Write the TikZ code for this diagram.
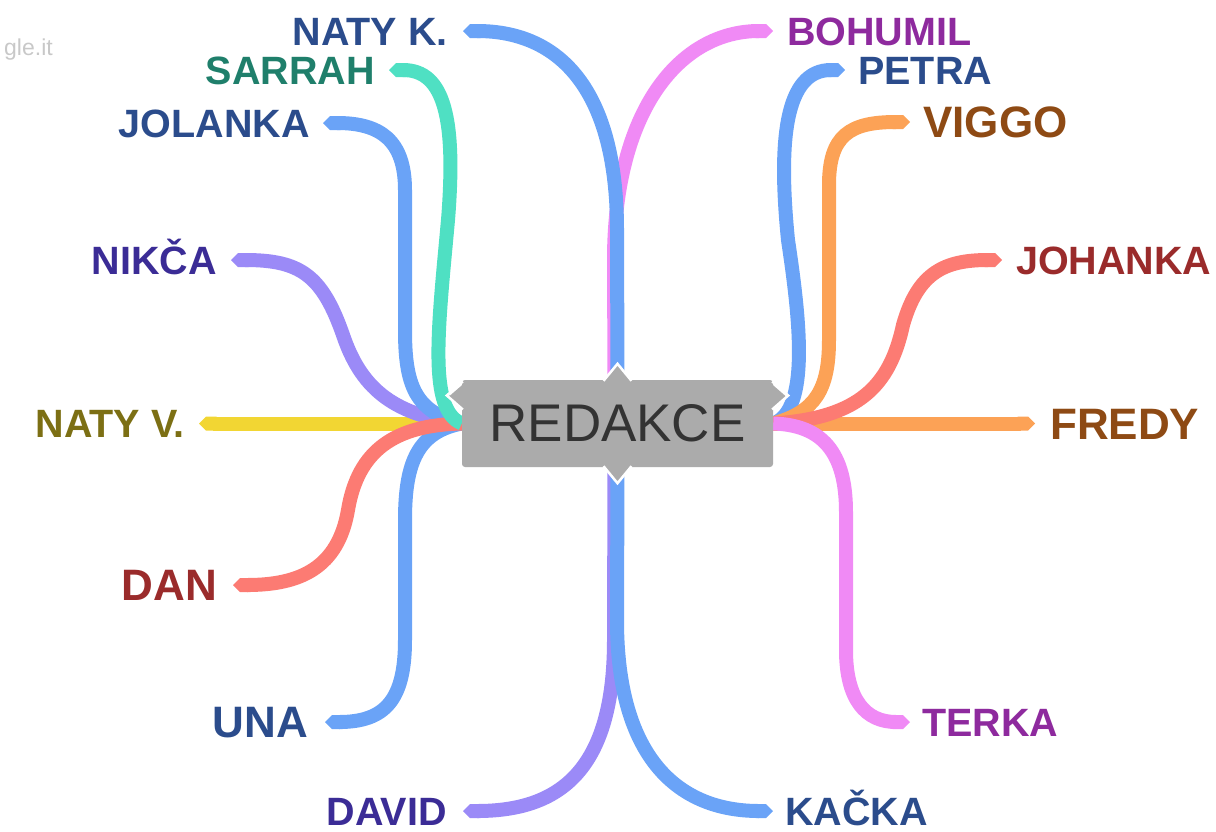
\documentclass[tikz,border=0pt]{standalone}
\usepackage{fontspec}
\setmainfont{Liberation Sans}
\usetikzlibrary{arrows.meta,backgrounds}
\definecolor{bBlue}{HTML}{6AA3F7}
\definecolor{bPink}{HTML}{F08AF5}
\definecolor{bTeal}{HTML}{4FE0C3}
\definecolor{bPurple}{HTML}{9B8AF7}
\definecolor{bYellow}{HTML}{F2D633}
\definecolor{bRed}{HTML}{FC7B73}
\definecolor{bOrange}{HTML}{FCA256}
\definecolor{tBlue}{HTML}{2B4C8C}
\definecolor{tPink}{HTML}{8E2A9E}
\definecolor{tTeal}{HTML}{1F7F6B}
\definecolor{tPurple}{HTML}{3B2C96}
\definecolor{tOlive}{HTML}{7C6F14}
\definecolor{tRed}{HTML}{9A2B2B}
\definecolor{tBrown}{HTML}{8E4A14}
\definecolor{boxgray}{HTML}{ABABAB}
\definecolor{boxtext}{HTML}{333333}
\definecolor{wmgray}{HTML}{C8C8C8}
\tikzset{
  branch/.style={line width=14pt, -{Triangle Cap}},
  lbl/.style={font=\fontsize{39.5}{40}\selectfont\bfseries, inner sep=0pt, text height=28.3pt, text depth=0pt},
  biglbl/.style={font=\fontsize{44}{45}\selectfont\bfseries, inner sep=0pt, text height=31.5pt, text depth=0pt},
  centerbox/.style={fill=boxgray, rounded corners=3pt, minimum width=311pt, minimum height=87pt, inner sep=0pt, text=boxtext, font=\fontsize{53}{54}\selectfont},
  notch/.style={fill=boxgray},
  notchedge/.style={draw=white, line width=2.5pt},
}
\begin{document}
\begin{tikzpicture}[x=1pt,y=-1pt]
\useasboundingbox (0,0) rectangle (1216,831);
\node[anchor=base west, text=wmgray, font=\fontsize{23}{24}\selectfont, inner sep=0pt] (wm) at (4,55) {gle.it};

\node[centerbox] (box) at (617.5,423.5) {REDAKCE};

% tips
\coordinate (tNK) at (463,31);
\coordinate (tBO) at (773,31);
\coordinate (tSA) at (389,70);
\coordinate (tJO) at (323,123);
\coordinate (tNI) at (231,260);
\coordinate (tNV) at (199,423.5);
\coordinate (tDA) at (233,585);
\coordinate (tUN) at (325,722);
\coordinate (tDV) at (463,811);
\coordinate (tKA) at (773,811);
\coordinate (tPE) at (845,70);
\coordinate (tVI) at (910,122);
\coordinate (tJH) at (1002,260);
\coordinate (tFR) at (1035,423.5);
\coordinate (tTE) at (910,722);

\begin{scope}[on background layer]
% top
\draw[branch, bPink] ([xshift=-3pt]box.north) -- (614,260) .. controls (614,110) and (680,31) .. (tBO);
\draw[branch, bBlue] (box.north) -- (617,230) .. controls (617,90) and (560,31) .. (tNK);
% bottom
\draw[branch, bPurple] ([xshift=-3pt]box.south) -- (614,640) .. controls (614,770) and (560,811) .. (tDV);
\draw[branch, bBlue] (box.south) -- (617,620) .. controls (617,760) and (680,811) .. (tKA);
% left
\draw[branch, bYellow] (box.west) -- (tNV);
\draw[branch, bPurple] (box.west) .. controls (390,415) and (360,385) .. (343,335) .. controls (322,275) and (300,260) .. (tNI);
\draw[branch, bBlue] (box.west) .. controls (415,412) and (405,385) .. (405,330) -- (405,190) .. controls (405,140) and (380,123) .. (tJO);
\draw[branch, bBlue] (box.west) .. controls (418,432) and (405,462) .. (405,520) -- (405,640) .. controls (405,700) and (385,722) .. (tUN);
\draw[branch, bRed] (box.west) .. controls (395,425) and (358,450) .. (348,510) .. controls (338,568) and (300,585) .. (tDA);
\draw[branch, bTeal] (box.west) .. controls (428,410) and (438,330) .. (448,220) .. controls (456,120) and (445,70) .. (tSA);
% right
\draw[branch, bOrange] (box.east) -- (tFR);
\draw[branch, bBlue] (box.east) .. controls (810,410) and (800,320) .. (788,240) .. controls (778,140) and (785,70) .. (tPE);
\draw[branch, bOrange] (box.east) .. controls (815,412) and (829,390) .. (829,340) -- (829,185) .. controls (829,135) and (850,122) .. (tVI);
\draw[branch, bRed] (box.east) .. controls (860,418) and (890,385) .. (903,325) .. controls (918,272) and (945,260) .. (tJH);
\draw[branch, bPink] (box.east) .. controls (822,425) and (846,452) .. (846,512) -- (846,650) .. controls (846,700) and (866,722) .. (tTE);
\end{scope}

% notches
\fill[notch] ([xshift=-13pt,yshift=-1pt]box.north) -- ++(13,-16) -- ++(13,16) -- cycle;
\draw[notchedge] ([xshift=-14pt,yshift=-1pt]box.north) -- ++(14,-17) -- ++(14,17);
\fill[notch] ([xshift=-13pt,yshift=1pt]box.south) -- ++(13,16) -- ++(13,-16) -- cycle;
\draw[notchedge] ([xshift=-14pt,yshift=1pt]box.south) -- ++(14,17) -- ++(14,-17);
\fill[notch] ([xshift=1pt,yshift=13pt]box.west) -- ++(-15,-13) -- ++(15,-13) -- cycle;
\draw[notchedge] ([xshift=1pt,yshift=14pt]box.west) -- ++(-16,-14) -- ++(16,-14);
\fill[notch] ([xshift=-1pt,yshift=13pt]box.east) -- ++(15,-13) -- ++(-15,-13) -- cycle;
\draw[notchedge] ([xshift=-1pt,yshift=14pt]box.east) -- ++(16,-14) -- ++(-16,-14);

% labels
\node[lbl, anchor=east, text=tBlue] (lNK) at ([xshift=-15pt]tNK) {NATY K.};
\node[lbl, anchor=west, text=tPink] (lBO) at ([xshift=14pt]tBO) {BOHUMIL};
\node[lbl, anchor=east, text=tTeal] (lSA) at ([xshift=-14pt]tSA) {SARRAH};
\node[lbl, anchor=east, text=tBlue] (lJO) at ([xshift=-13pt]tJO) {JOLANKA};
\node[lbl, anchor=east, text=tPurple] (lNI) at ([xshift=-14pt]tNI) {NIKČA};
\node[lbl, anchor=east, text=tOlive] (lNV) at ([xshift=-14pt]tNV) {NATY V.};
\node[biglbl, anchor=east, text=tRed] (lDA) at ([xshift=-16pt]tDA) {DAN};
\node[biglbl, anchor=east, text=tBlue] (lUN) at ([xshift=-17pt]tUN) {UNA};
\node[lbl, anchor=east, text=tPurple] (lDV) at ([xshift=-16pt]tDV) {DAVID};
\node[lbl, anchor=west, text=tBlue] (lKA) at ([xshift=12pt]tKA) {KAČKA};
\node[lbl, anchor=west, text=tBlue] (lPE) at ([xshift=13pt]tPE) {PETRA};
\node[biglbl, anchor=west, text=tBrown] (lVI) at ([xshift=13pt]tVI) {VIGGO};
\node[lbl, anchor=west, text=tRed] (lJH) at ([xshift=14pt]tJH) {JOHANKA};
\node[biglbl, anchor=west, text=tBrown] (lFR) at ([xshift=15pt]tFR) {FREDY};
\node[lbl, anchor=west, text=tPink] (lTE) at ([xshift=12pt]tTE) {TERKA};
\end{tikzpicture}
\end{document}
